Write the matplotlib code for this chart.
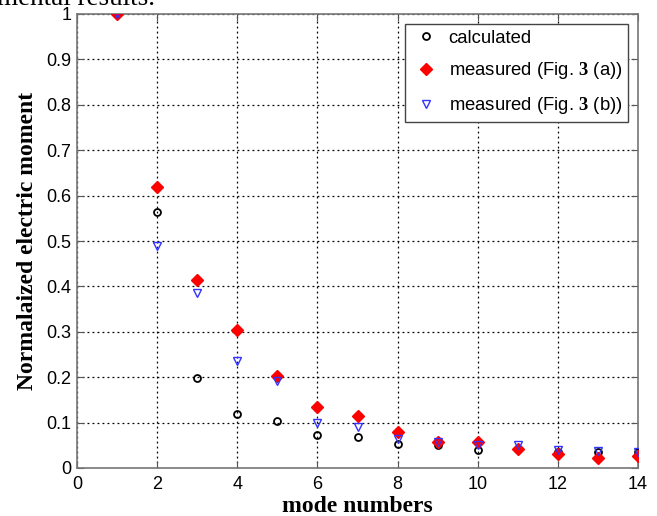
import matplotlib

matplotlib.use("Agg")
import matplotlib.pyplot as plt

modes = [1, 2, 3, 4, 5, 6, 7, 8, 9, 10, 11, 12, 13, 14]
calculated = [1.0, 0.564, 0.199, 0.120, 0.103, 0.072, 0.069, 0.053, 0.051, 0.040, 0.042, 0.035, 0.035, 0.036]
measured_a = [1.0, 0.619, 0.414, 0.305, 0.202, 0.135, 0.115, 0.079, 0.057, 0.057, 0.042, 0.031, 0.023, 0.026]
measured_b = [1.0, 0.490, 0.385, 0.236, 0.191, 0.100, 0.091, 0.064, 0.058, 0.051, 0.050, 0.039, 0.038, 0.035]

xticks = [0, 2, 4, 6, 8, 10, 12, 14]
yticks = [0, 0.1, 0.2, 0.3, 0.4, 0.5, 0.6, 0.7, 0.8, 0.9, 1]
ytick_labels = ["0", "0.1", "0.2", "0.3", "0.4", "0.5", "0.6", "0.7", "0.8", "0.9", "1"]

plt.rcParams["font.family"] = ["Liberation Sans", "DejaVu Sans"]
plt.rcParams["mathtext.fontset"] = "custom"
plt.rcParams["mathtext.bf"] = "Liberation Serif:bold"
plt.rcParams["mathtext.rm"] = "Liberation Sans"

fig = plt.figure(figsize=(6.57, 5.16), dpi=100)
ax = fig.add_axes([77 / 657, 1 - 468 / 516, (638 - 77) / 657, (468 - 14) / 516])

ax.plot(modes, calculated, linestyle="none", marker="o", markersize=5,
        markerfacecolor="none", markeredgecolor="black", markeredgewidth=1.3,
        label="calculated", zorder=3)
ax.plot(modes, measured_a, linestyle="none", marker="D", markersize=6,
        color="#ff0000", label=r"measured (Fig. $\mathbf{3}$ (a))", zorder=4)
ax.plot(modes, measured_b, linestyle="none", marker="v", markersize=6,
        markerfacecolor="none", markeredgecolor="#3333ff", markeredgewidth=1.0,
        label=r"measured (Fig. $\mathbf{3}$ (b))", zorder=5)

ax.set_xlim(0, 14)
ax.set_ylim(0, 1)
ax.set_xticks(xticks)
ax.set_yticks(yticks)
ax.set_yticklabels(ytick_labels)
ax.tick_params(direction="in", top=True, right=True, length=5, labelsize=13,
               color="#555555", pad=4)
ax.tick_params(axis="x", pad=6)
ax.grid(True, color="black", linestyle=(0, (1.5, 2.5)), linewidth=0.9)
for spine in ax.spines.values():
    spine.set_color("#777777")
    spine.set_linewidth(1.2)

ax.set_xlabel("mode numbers", family="Liberation Serif", fontweight="bold",
              fontsize=17, labelpad=2)
ax.set_ylabel("Normalaized electric moment", family="Liberation Serif",
              fontweight="bold", fontsize=17, labelpad=6)

leg = ax.legend(loc="upper right", bbox_to_anchor=(0.982, 0.978), fontsize=13.3,
                frameon=True, fancybox=False, edgecolor="#444444",
                framealpha=1, handletextpad=0.45, labelspacing=0.75,
                borderpad=0.3, handlelength=1.6, borderaxespad=0)
leg.get_frame().set_linewidth(1.0)

fig.text(-0.005, 1 - 5 / 516, "mental results.", family="Liberation Serif",
         fontsize=19.5, va="baseline", ha="left")

fig.savefig("out.png", dpi=100)
plt.close(fig)
